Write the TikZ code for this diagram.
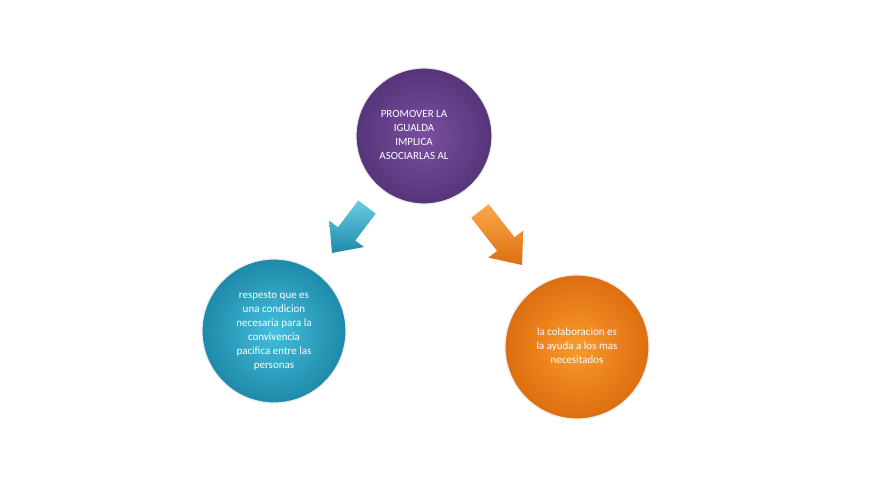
\documentclass[tikz,border=0pt]{standalone}
\usepackage{fontspec}
\setmainfont{Carlito}
\begin{document}
\begin{tikzpicture}[x=1pt,y=-1pt,
  ball/.style={circle,minimum size=#1,draw=white!85!gray,line width=1.2pt,align=center,text=white,font=\fontsize{11}{14}\selectfont},
  ball/.default=144pt]
\useasboundingbox (0,0) rectangle (874,501);
\fill[white] (0,0) rectangle (874,501);
\definecolor{pur}{HTML}{7B4FA0}\definecolor{purd}{HTML}{55357A}
\definecolor{tea}{HTML}{45BEDB}\definecolor{tead}{HTML}{1E8AAA}
\definecolor{ora}{HTML}{FA9A2A}\definecolor{orad}{HTML}{DD6E10}
\node[ball=136pt,inner color=pur,outer color=purd] (top) at (424,136) {};
\node[ball,inner color=tea,outer color=tead] (left) at (274,331) {};
\node[ball,inner color=ora,outer color=orad] (right) at (577,347) {};
\node[text=white,align=center,font=\fontsize{11}{14}\selectfont] (tt) at (414,135) {PROMOVER\ LA\\IGUALDA\\IMPLICA\\ASOCIARLAS\ AL};
\node[text=white,align=center,font=\fontsize{11}{14}\selectfont] (lt) at (274,331) {respesto que es\\una condicion\\necesaria para la\\convivencia\\pacifica entre las\\personas};
\node[text=white,align=center,font=\fontsize{11}{14}\selectfont] (rt) at (577,346) {la colaboracion es\\la ayuda a los mas\\necesitados};
\shade[top color=tea!80!white,bottom color=tead] (375.7,213.6) -- (358.3,200.4) -- (337.9,227.3) -- (329.2,220.7) -- (332,253) -- (364,247) -- (355.3,240.5) -- cycle;
\shade[top color=ora!85!white,bottom color=orad] (488.7,204.2) -- (471.3,217.8) -- (497.1,250.9) -- (488.4,257.6) -- (522,265) -- (523.2,230.6) -- (514.5,237.3) -- cycle;
\end{tikzpicture}
\end{document}
